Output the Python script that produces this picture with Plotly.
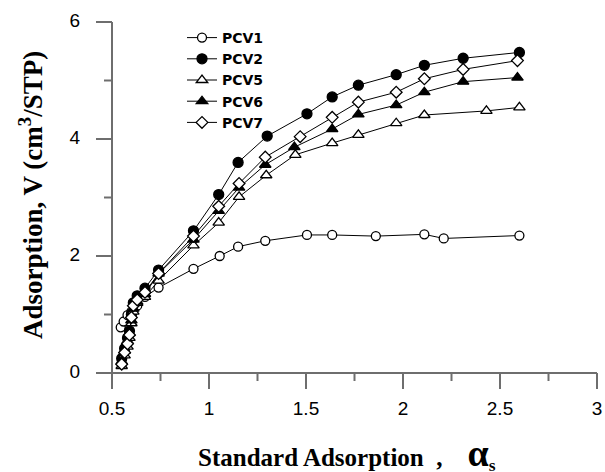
import plotly.graph_objects as go

# Data
pcv1_x = [0.545, 0.56, 0.58, 0.60, 0.63, 0.67, 0.74, 0.92, 1.055, 1.15, 1.29, 1.505, 1.635, 1.86, 2.11, 2.21, 2.60]
pcv1_y = [0.78, 0.88, 0.99, 1.05, 1.15, 1.30, 1.46, 1.78, 2.00, 2.16, 2.26, 2.36, 2.36, 2.34, 2.37, 2.30, 2.35]

pcv2_x = [0.55, 0.565, 0.58, 0.59, 0.60, 0.61, 0.63, 0.67, 0.74, 0.92, 1.05, 1.15, 1.30, 1.505, 1.635, 1.77, 1.965, 2.11, 2.31, 2.60]
pcv2_y = [0.25, 0.42, 0.60, 0.72, 1.00, 1.20, 1.32, 1.45, 1.76, 2.43, 3.05, 3.60, 4.05, 4.43, 4.72, 4.92, 5.10, 5.26, 5.38, 5.48]

pcv5_x = [0.55, 0.565, 0.58, 0.59, 0.60, 0.61, 0.63, 0.67, 0.74, 0.92, 1.05, 1.155, 1.295, 1.445, 1.635, 1.77, 1.965, 2.11, 2.43, 2.60]
pcv5_y = [0.12, 0.30, 0.45, 0.60, 0.85, 1.05, 1.20, 1.30, 1.58, 2.18, 2.57, 3.01, 3.38, 3.73, 3.93, 4.07, 4.27, 4.41, 4.48, 4.54]

pcv6_x = [0.55, 0.565, 0.58, 0.59, 0.60, 0.61, 0.63, 0.67, 0.74, 0.92, 1.05, 1.155, 1.29, 1.44, 1.635, 1.77, 1.965, 2.11, 2.31, 2.59]
pcv6_y = [0.20, 0.38, 0.55, 0.68, 0.90, 1.10, 1.22, 1.35, 1.70, 2.28, 2.77, 3.17, 3.56, 3.86, 4.17, 4.42, 4.58, 4.80, 4.98, 5.05]

pcv7_x = [0.55, 0.565, 0.58, 0.59, 0.60, 0.61, 0.63, 0.67, 0.74, 0.92, 1.05, 1.155, 1.29, 1.47, 1.635, 1.77, 1.965, 2.11, 2.31, 2.59]
pcv7_y = [0.15, 0.35, 0.50, 0.65, 0.95, 1.15, 1.25, 1.38, 1.70, 2.34, 2.85, 3.24, 3.69, 4.04, 4.37, 4.63, 4.80, 5.03, 5.19, 5.34]

x_ticks = [0.5, 1, 1.5, 2, 2.5, 3]
x_minor = [0.75, 1.25, 1.75, 2.25, 2.75]
y_ticks = [0, 2, 4, 6]
y_minor = [1, 3, 5]

series = [
    ("PCV1", pcv1_x, pcv1_y, "circle", "white", 9),
    ("PCV2", pcv2_x, pcv2_y, "circle", "black", 10),
    ("PCV5", pcv5_x, pcv5_y, "triangle-up", "white", 10),
    ("PCV6", pcv6_x, pcv6_y, "triangle-up", "black", 10),
    ("PCV7", pcv7_x, pcv7_y, "diamond", "white", 9),
]

# figure geometry (px): the axes box inside a 605x472 canvas
W, H = 605, 472
L, R, T, B = 112, 597, 22, 373
kx = (R - L) / (x_ticks[-1] - x_ticks[0])   # px per x unit
ky = (B - T) / (y_ticks[-1] - y_ticks[0])   # px per y unit
x_range = [x_ticks[0] - L / kx, x_ticks[-1] + (W - R) / kx]
y_range = [y_ticks[0] - (H - B) / ky, y_ticks[-1] + T / ky]

axis_color = '#6e6e6e'
x0, y0 = x_ticks[0], y_ticks[0]

fig = go.Figure()

# axis frame drawn in the same coordinates as the data
def seg_trace(xs, ys):
    return go.Scatter(x=xs, y=ys, mode='lines', showlegend=False, hoverinfo='skip',
                      line=dict(color=axis_color, width=2))

fx, fy = [], []
for v in x_ticks + x_minor:
    n = 16 if v in x_ticks else 8
    fx += [v, v, None]
    fy += [y0, y0 - n / ky, None]
for v in y_ticks + y_minor:
    n = 16 if v in y_ticks else 8
    fx += [x0, x0 - n / kx, None]
    fy += [v, v, None]
fx += [x_ticks[0], x_ticks[-1], None, x0, x0]
fy += [y0, y0, None, y_ticks[0], y_ticks[-1]]
fig.add_trace(seg_trace(fx, fy))

# tick labels
fig.add_trace(go.Scatter(
    x=x_ticks, y=[y0 - 37 / ky] * len(x_ticks), mode='text',
    text=[f"{v:g}" for v in x_ticks], textposition='middle center',
    textfont=dict(family='Liberation Sans, Arial', size=19, color='black'),
    showlegend=False, hoverinfo='skip'))
fig.add_trace(go.Scatter(
    x=[x0 - 32 / kx] * len(y_ticks), y=y_ticks, mode='text',
    text=[f"{v:g}" for v in y_ticks], textposition='middle left',
    textfont=dict(family='Liberation Sans, Arial', size=19, color='black'),
    showlegend=False, hoverinfo='skip'))

for name, xs, ys, sym, fill, size in series:
    fig.add_trace(go.Scatter(
        x=xs, y=ys, name='<b>' + name + '</b>',
        mode='lines+markers',
        line=dict(color='black', width=1),
        marker=dict(symbol=sym, size=size, color=fill,
                    line=dict(color='black', width=1.3)),
    ))

fig.update_layout(
    width=W, height=H,
    paper_bgcolor='white', plot_bgcolor='white',
    margin=dict(l=0, r=0, t=0, b=0),
    font=dict(family='Liberation Sans, Arial', size=19, color='black'),
    showlegend=True,
    legend=dict(
        x=182 / W, y=1 - 22 / H, xanchor='left', yanchor='top',
        bgcolor='rgba(0,0,0,0)', borderwidth=0,
        font=dict(family='DejaVu Sans', size=14, color='black'),
    ),
    xaxis=dict(range=x_range, visible=False, fixedrange=True),
    yaxis=dict(range=y_range, visible=False, fixedrange=True),
)

fig.add_annotation(
    xref='paper', yref='paper', x=347 / W, y=1 - 453 / H,
    xanchor='center', yanchor='middle', showarrow=False,
    text='<b>Standard Adsorption&nbsp; ,&nbsp;&nbsp;&nbsp; <span style="font-size:38px">α</span><sub>s</sub></b>',
    font=dict(family='Liberation Serif, Times New Roman', size=25),
)
fig.add_annotation(
    xref='paper', yref='paper', x=31 / W, y=1 - 195 / H,
    xanchor='center', yanchor='middle', showarrow=False, textangle=-90,
    text='<b>Adsorption, V (cm<sup>3</sup>/STP)</b>',
    font=dict(family='Liberation Serif, Times New Roman', size=27),
)

fig.write_html("out.html", config={'displayModeBar': False},
               post_script="document.body.style.margin='0px';")
